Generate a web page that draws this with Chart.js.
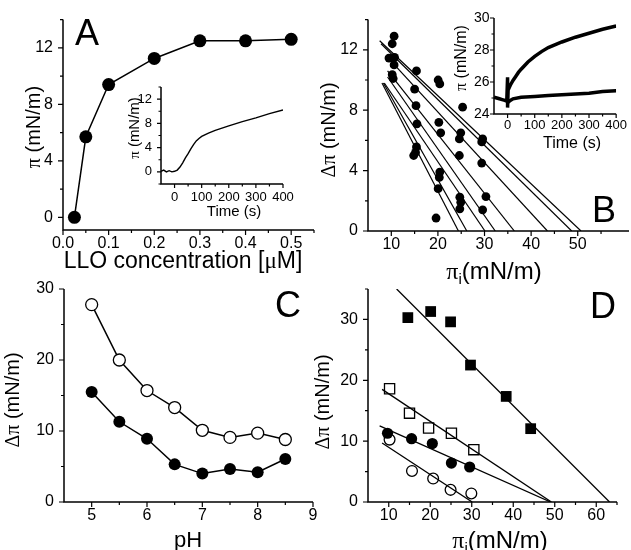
<!DOCTYPE html>
<html>
<head>
<meta charset="utf-8">
<script src="https://cdn.jsdelivr.net/npm/chart.js@4"></script>
<style>
  body { margin: 0; background: #fff; }
  #wrap { position: relative; width: 631px; height: 550px; }
  #wrap canvas { position: absolute; left: 0; top: 0; }
</style>
</head>
<body>
<div id="wrap">
  <canvas id="chartA" width="631" height="550"></canvas>
  <canvas id="chartB" width="631" height="550"></canvas>
  <canvas id="chartC" width="631" height="550"></canvas>
  <canvas id="chartD" width="631" height="550"></canvas>
  <canvas id="insetA" width="631" height="550"></canvas>
  <canvas id="insetB" width="631" height="550"></canvas>
</div>
<script>
// A: pressure increase vs LLO concentration
const lloConc = [0.025, 0.05, 0.1, 0.2, 0.3, 0.4, 0.5];
const lloPressure = [0, 5.7, 9.4, 11.25, 12.5, 12.5, 12.6];

// A inset: adsorption trace
const traceATime = [-50, -40, -30, -20, -10, 0, 10, 20, 30, 40, 50, 60, 70, 80, 90, 100, 125, 150, 200, 250, 300, 350, 400];
const traceAPi = [0.1, 0.3, 0.0, 0.2, 0.0, 0.1, 0.3, 0.8, 1.5, 2.3, 3.0, 3.8, 4.5, 5.1, 5.5, 5.85, 6.4, 6.85, 7.6, 8.3, 8.9, 9.6, 10.2];

// B: insertion points, pi_i vs delta pi
const bPiInitial = [10.6, 10.2, 9.5, 10.7, 10.6, 10.2, 10.4, 15.4, 15.0, 15.3, 15.5, 15.4, 15.2, 14.8,
  20.05, 20.4, 25.3, 20.2, 20.6, 24.9, 24.6, 24.6, 29.6, 29.4, 29.4, 20.4, 20.3, 20.05, 24.7, 24.9, 24.7, 30.3, 29.6, 19.6];
const bDeltaPi = [12.9, 12.4, 11.45, 11.5, 11.0, 10.35, 10.1, 10.6, 9.4, 8.3, 7.1, 5.57, 5.2, 5.0,
  10.0, 9.74, 8.2, 7.2, 6.5, 6.5, 6.1, 5.0, 6.1, 5.9, 4.5, 3.9, 3.55, 2.8, 2.24, 1.9, 1.47, 2.28, 1.4, 0.86];
// B: regression lines (start point, x intercept)
const bFitStartX = [7.5, 7.8, 9.5, 9.2, 9.2, 8.5, 8.3, 8.0];
const bFitStartY = [12.6, 12.4, 11.4, 10.6, 10.2, 9.8, 9.8, 9.8];
const bFitIntercept = [50.7, 48.7, 43.5, 36.4, 32.3, 30.1, 26.2, 24.4];

// B inset: two pressure traces
const traceBTimeHigh = [-50, -40, -30, -20, -10, -3, 0, 0, 2, 10, 20, 30, 40, 50, 75, 100, 125, 150, 200, 250, 300, 350, 400];
const traceBPiHigh = [25.05, 25.0, 24.95, 24.9, 24.85, 24.8, 26.3, 24.4, 25.5, 25.8, 26.1, 26.35, 26.6, 26.8, 27.25, 27.6, 27.9, 28.15, 28.5, 28.8, 29.05, 29.3, 29.5];
const traceBTimeLow = [0, 10, 20, 50, 100, 150, 200, 250, 300, 350, 400];
const traceBPiLow = [24.7, 24.85, 24.95, 25.05, 25.1, 25.15, 25.2, 25.25, 25.3, 25.4, 25.45];

// C: delta pi vs pH
const pH = [5, 5.5, 6, 6.5, 7, 7.5, 8, 8.5];
const cOpen = [27.8, 20, 15.7, 13.3, 10.1, 9.1, 9.7, 8.8];
const cFilled = [15.5, 11.3, 8.9, 5.3, 4.0, 4.65, 4.2, 6.05];

// D: four monolayers with fits
const dFilledSqX = [14.6, 20.1, 24.9, 29.7, 38.3, 44.2];
const dFilledSqY = [30.3, 31.3, 29.6, 22.5, 17.35, 12.05];
const dOpenSqX = [10.2, 15.0, 19.6, 25.1, 30.5];
const dOpenSqY = [18.6, 14.6, 12.15, 11.3, 8.6];
const dFilledCircX = [9.7, 15.5, 20.5, 25.1, 29.5];
const dFilledCircY = [11.3, 10.4, 9.6, 6.4, 5.75];
const dOpenCircX = [10.2, 15.6, 20.7, 24.9, 29.9];
const dOpenCircY = [10.25, 5.1, 3.85, 2.0, 1.4];
// fit lines: [x0, y0, x1, y1] for filled sq, open sq, filled circ, open circ
const dFitX0 = [11.9, 8.4, 7.8, 8.4];
const dFitY0 = [35, 18.5, 12.5, 9.7];
const dFitX1 = [63.2, 49.2, 49.0, 30.1];

const W = 631, H = 550;
const SANS = '"Liberation Sans", Arial, sans-serif';
const SERIF = '"Liberation Serif", "Times New Roman", serif';

const zip = (xs, ys) => xs.map((x, i) => ({ x, y: ys[i] }));

function dots(xs, ys, r, filled, style) {
  return {
    data: zip(xs, ys), showLine: false,
    pointStyle: style || 'circle', pointRadius: r,
    pointBackgroundColor: filled ? '#000' : '#fff',
    pointBorderColor: '#000', pointBorderWidth: filled ? 0 : 1.3
  };
}
function trace(pts, width) {
  return { data: pts, showLine: true, borderColor: '#000', borderWidth: width, pointRadius: 0, tension: 0 };
}

function axis(range, major, size, pad, fmt) {
  return {
    type: 'linear', min: range[0], max: range[1],
    grid: { display: false, drawTicks: false },
    border: { display: false },
    ticks: {
      color: '#000', font: { family: SANS, size }, padding: pad,
      maxRotation: 0, autoSkip: false,
      callback: fmt || (v => String(v))
    },
    afterBuildTicks: s => { s.ticks = major.map(v => ({ value: v })); }
  };
}

// left/bottom axis lines with outward major and minor ticks
function frame(xMajor, xMinor, yMajor, yMinor, len) {
  return {
    id: 'frame',
    afterDraw(chart) {
      const { ctx, chartArea: a, scales: { x, y } } = chart;
      ctx.save();
      ctx.strokeStyle = '#000';
      ctx.lineWidth = 1.5;
      ctx.beginPath();
      ctx.moveTo(a.left, a.top);
      ctx.lineTo(a.left, a.bottom);
      ctx.lineTo(a.right, a.bottom);
      ctx.stroke();
      ctx.lineWidth = 1.2;
      const tx = (v, l) => { const p = x.getPixelForValue(v); ctx.moveTo(p, a.bottom); ctx.lineTo(p, a.bottom + l); };
      const ty = (v, l) => { const p = y.getPixelForValue(v); ctx.moveTo(a.left, p); ctx.lineTo(a.left - l, p); };
      ctx.beginPath();
      xMajor.forEach(v => tx(v, len[0]));
      xMinor.forEach(v => tx(v, len[1]));
      yMajor.forEach(v => ty(v, len[0]));
      yMinor.forEach(v => ty(v, len[1]));
      ctx.stroke();
      ctx.restore();
    }
  };
}

// axis titles and panel letters, built from mixed-font pieces
function labels(items) {
  return {
    id: 'labels',
    afterDraw(chart) {
      const ctx = chart.ctx;
      items.forEach(it => {
        ctx.save();
        ctx.fillStyle = '#000';
        ctx.textBaseline = 'alphabetic';
        ctx.textAlign = 'left';
        ctx.translate(it.x, it.y);
        if (it.rotate) ctx.rotate(-Math.PI / 2);
        const widths = it.parts.map(p => { ctx.font = p[1] + 'px ' + p[2]; return ctx.measureText(p[0]).width; });
        let cx = it.left ? 0 : -widths.reduce((s, w) => s + w, 0) / 2;
        it.parts.forEach((p, i) => {
          ctx.font = p[1] + 'px ' + p[2];
          ctx.fillText(p[0], cx, p[3] || 0);
          cx += widths[i];
        });
        ctx.restore();
      });
    }
  };
}

// box = plot area [left, top, right, bottom]; the y scale fills the strip to
// its left and the x scale the strip below it, so tick labels are not clipped
function build(id, box, scales, datasets, plugins) {
  scales.y.afterFit = s => { s.width = box[0]; };
  scales.x.afterFit = s => { s.height = H - box[3]; };
  return new Chart(document.getElementById(id), {
    type: 'scatter',
    data: { datasets },
    options: {
      responsive: false, animation: false, events: [],
      layout: { autoPadding: false, padding: { left: 0, top: box[1], right: W - box[2], bottom: 0 } },
      plugins: { legend: { display: false }, tooltip: { enabled: false } },
      scales
    },
    plugins
  });
}

const piParts = (size) => [['π', size, SERIF], [' (mN/m)', size, SANS]];
const dpiParts = (size) => [['Δπ', size, SERIF], [' (mN/m)', size, SANS]];
const piiParts = [['π', 24, SERIF], ['i', 15, SANS, 5], ['(mN/m)', 24, SANS]];

// Panel A
build('chartA', [63, 18, 314, 230], {
  x: axis([0, 0.55], [0, 0.1, 0.2, 0.3, 0.4, 0.5], 16, 3.5, v => v.toFixed(1)),
  y: axis([-0.9, 14], [0, 4, 8, 12], 16, 10)
}, [{
  ...dots(lloConc, lloPressure, 6.5, true),
  showLine: true, borderColor: '#000', borderWidth: 1.5
}], [
  frame([0, 0.1, 0.2, 0.3, 0.4, 0.5], [0.05, 0.15, 0.25, 0.35, 0.45, 0.55], [0, 4, 8, 12], [2, 6, 10, 14], [5, 3]),
  labels([
    { parts: [['LLO concentration [', 23, SANS], ['μ', 23, SERIF], ['M]', 23, SANS]], x: 183, y: 268 },
    { parts: piParts(20), x: 40, y: 127, rotate: true },
    { parts: [['A', 36, SANS]], x: 75, y: 45, left: true }
  ])
]);

// Panel B
build('chartB', [368, 18, 629, 231], {
  x: axis([5, 61], [10, 20, 30, 40, 50], 16, 3.5),
  y: axis([0, 14], [0, 4, 8, 12], 16, 10)
}, [
  ...bFitStartX.map((x0, i) => trace([{ x: x0, y: bFitStartY[i] }, { x: bFitIntercept[i], y: 0 }], 1.2)),
  dots(bPiInitial, bDeltaPi, 4.4, true)
], [
  frame([10, 20, 30, 40, 50], [15, 25, 35, 45, 55], [0, 4, 8, 12], [2, 6, 10, 14], [5, 3]),
  labels([
    { parts: piiParts, x: 494, y: 279 },
    { parts: dpiParts(20), x: 335, y: 130, rotate: true },
    { parts: [['B', 36, SANS]], x: 592, y: 222, left: true }
  ])
]);

// Panel C
build('chartC', [64, 289, 313, 502], {
  x: axis([4.5, 9], [5, 6, 7, 8, 9], 16, 3.5),
  y: axis([0, 30], [0, 10, 20, 30], 16, 10)
}, [
  { ...dots(pH, cOpen, 6, false), showLine: true, borderColor: '#000', borderWidth: 1.5 },
  { ...dots(pH, cFilled, 6, true), showLine: true, borderColor: '#000', borderWidth: 1.5 }
], [
  frame([5, 6, 7, 8, 9], [5.5, 6.5, 7.5, 8.5], [0, 10, 20, 30], [5, 15, 25], [5, 3]),
  labels([
    { parts: [['pH', 22, SANS]], x: 188, y: 547 },
    { parts: dpiParts(20), x: 19, y: 400, rotate: true },
    { parts: [['C', 36, SANS]], x: 275, y: 317, left: true }
  ])
]);

// Panel D
build('chartD', [368, 289, 617, 502], {
  x: axis([5, 65], [10, 20, 30, 40, 50, 60], 16, 3.5),
  y: axis([0, 35], [0, 10, 20, 30], 16, 10)
}, [
  ...dFitX0.map((x0, i) => trace([{ x: x0, y: dFitY0[i] }, { x: dFitX1[i], y: 0 }], 1.3)),
  dots(dFilledSqX, dFilledSqY, 7.6, true, 'rect'),
  dots(dOpenSqX, dOpenSqY, 7.2, false, 'rect'),
  dots(dFilledCircX, dFilledCircY, 5.6, true),
  dots(dOpenCircX, dOpenCircY, 5.4, false)
], [
  frame([10, 20, 30, 40, 50, 60], [15, 25, 35, 45, 55, 65], [0, 10, 20, 30], [5, 15, 25, 35], [5, 3]),
  labels([
    { parts: piiParts, x: 500, y: 548 },
    { parts: dpiParts(20), x: 329, y: 402, rotate: true },
    { parts: [['D', 36, SANS]], x: 590, y: 318, left: true }
  ])
]);

// Inset of A
build('insetA', [161, 87, 283, 184], {
  x: axis([-50, 400], [0, 100, 200, 300, 400], 13, 5.5),
  y: axis([-2, 14], [0, 4, 8, 12], 13, 9)
}, [trace(zip(traceATime, traceAPi), 1.4)], [
  frame([0, 100, 200, 300, 400], [50, 150, 250, 350], [0, 4, 8, 12], [-2, 2, 6, 10, 14], [4, 2.5]),
  labels([
    { parts: [['Time (s)', 15, SANS]], x: 234, y: 216 },
    { parts: piParts(15), x: 139, y: 128, rotate: true }
  ])
]);

// Inset of B
build('insetB', [494, 18, 617, 114], {
  x: axis([-50, 400], [0, 100, 200, 300, 400], 13, 4),
  y: axis([24, 30], [24, 26, 28, 30], 14, 4.5)
}, [
  trace(zip(traceBTimeHigh, traceBPiHigh), 3.5),
  trace(zip(traceBTimeLow, traceBPiLow), 3.5)
], [
  frame([0, 100, 200, 300, 400], [50, 150, 250, 350], [24, 26, 28, 30], [25, 27, 29], [4, 2.5]),
  labels([
    { parts: [['Time (s)', 16, SANS]], x: 572, y: 148 },
    { parts: piParts(16), x: 466, y: 58, rotate: true }
  ])
]);
</script>
</body>
</html>
